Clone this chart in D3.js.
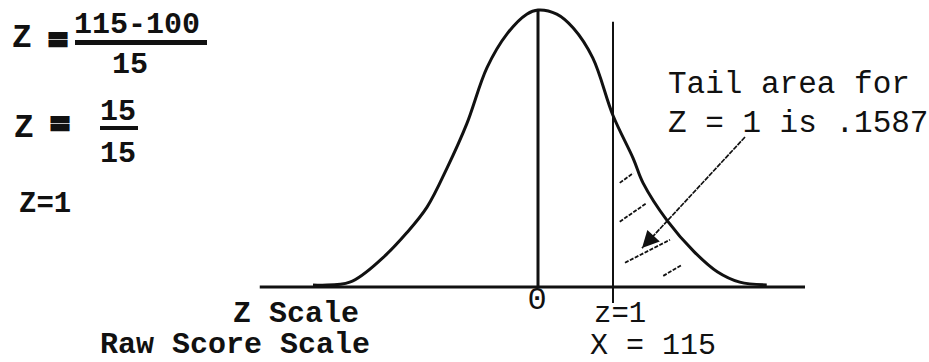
<!DOCTYPE html>
<html><head><meta charset="utf-8">
<script src="https://cdn.jsdelivr.net/npm/d3@7"></script>
<style>body{margin:0;background:#fff}svg{display:block}</style>
</head><body><svg id="c" width="929" height="362"></svg>
<script>
// ---- data ----
const curveZ       = [-3.0, -2.51, -2.07, -1.75, -1.48, -1.21, -0.95, -0.68, -0.41, -0.15, 0, 0.25, 0.47, 0.73, 1.0, 1.27, 1.40, 1.72, 2.08, 2.39, 2.69, 3.05];
const curveDensity = [0.003, 0.007, 0.042, 0.078, 0.115, 0.172, 0.235, 0.316, 0.365, 0.393, 0.399, 0.393, 0.373, 0.330, 0.247, 0.185, 0.150, 0.096, 0.051, 0.022, 0.007, 0.003];
const axisZ = [-3.71, 3.56];
const meanZ = 0;
const cutZ = 1;
const tickLabels = ["0", "z=1"];
const rawLabels = ["X = 115"];
const scaleTitles = ["Z Scale", "Raw Score Scale"];
const noteLines = ["Tail area for", "Z = 1 is .1587"];
const formulaParts = {num1: "115-100", den1: "15", num2: "15", den2: "15", result: "Z=1"};
const hatchZ       = [[1.09, 1.27], [1.09, 1.45], [1.16, 1.76], [1.67, 1.92]];
const hatchDensity = [[0.150, 0.164], [0.094, 0.121], [0.035, 0.068], [0.016, 0.032]];
const arrowZ       = [2.76, 1.387];
const arrowDensity = [0.216, 0.056];

const svg = d3.select("#c");
const x = d3.scaleLinear().domain([-3, 3]).range([313, 763]);
const y = d3.scaleLinear().domain([0, 0.399]).range([287, 10]);
const mono = "'Liberation Mono','DejaVu Sans Mono',monospace";
const ink = "#111";

svg.append("defs").append("marker")
  .attr("id", "ah").attr("viewBox", "0 0 10 10").attr("refX", 10).attr("refY", 5)
  .attr("markerWidth", 24).attr("markerHeight", 17).attr("markerUnits", "userSpaceOnUse")
  .attr("orient", "auto")
  .append("path").attr("d", "M0,0L10,5L0,10Z").attr("fill", ink);

// labels under axis (drawn first so axis overlaps the "0")
svg.append("text").attr("x", x(meanZ) - 1).attr("y", 309).attr("text-anchor", "middle")
  .attr("font-family", mono).attr("font-size", 32).attr("fill", ink).text(tickLabels[0]);
svg.append("text").attr("x", 594).attr("y", 322)
  .attr("font-family", mono).attr("font-size", 29).attr("fill", ink).text(tickLabels[1]);
svg.append("text").attr("x", 590).attr("y", 354)
  .attr("font-family", mono).attr("font-size", 30).attr("fill", ink).text(rawLabels[0]);

svg.append("text").attr("x", 233).attr("y", 322)
  .attr("font-family", mono).attr("font-weight", "bold").attr("font-size", 30).attr("fill", ink).text(scaleTitles[0]);
svg.append("text").attr("x", 100).attr("y", 353)
  .attr("font-family", mono).attr("font-weight", "bold").attr("font-size", 30).attr("fill", ink).text(scaleTitles[1]);

// baseline
svg.append("line").attr("x1", x(axisZ[0])).attr("x2", x(axisZ[1]))
  .attr("y1", y(0)).attr("y2", y(0)).attr("stroke", ink).attr("stroke-width", 3);

// mean line
svg.append("line").attr("x1", x(meanZ)).attr("x2", x(meanZ))
  .attr("y1", y(0)).attr("y2", y(0.399)).attr("stroke", ink).attr("stroke-width", 3);

// z = 1 line
svg.append("line").attr("x1", x(cutZ)).attr("x2", x(cutZ))
  .attr("y1", y(-0.023)).attr("y2", y(0.382)).attr("stroke", ink).attr("stroke-width", 2);

// curve
const pts = curveZ.map((z, i) => [z, curveDensity[i]]);
svg.append("path").datum(pts)
  .attr("d", d3.line().x(d => x(d[0])).y(d => y(d[1])).curve(d3.curveCatmullRom.alpha(0.5)))
  .attr("fill", "none").attr("stroke", ink).attr("stroke-width", 3).attr("stroke-linejoin", "round");

// hatch dashes
svg.selectAll(".hatch").data(hatchZ).enter().append("line")
  .attr("x1", (d) => x(d[0])).attr("x2", (d) => x(d[1]))
  .attr("y1", (d, i) => y(hatchDensity[i][0])).attr("y2", (d, i) => y(hatchDensity[i][1]))
  .attr("stroke", ink).attr("stroke-width", 1.8).attr("stroke-dasharray", "4 1.5");

// arrow
svg.append("line").attr("x1", x(arrowZ[0])).attr("y1", y(arrowDensity[0]))
  .attr("x2", x(arrowZ[1])).attr("y2", y(arrowDensity[1]))
  .attr("stroke", ink).attr("stroke-width", 1.7).attr("stroke-dasharray", "5 1")
  .attr("marker-end", "url(#ah)");

// note text
noteLines.forEach((t, i) => {
  svg.append("text").attr("x", 668).attr("y", 93 + i * 39)
    .attr("font-family", mono).attr("font-size", 31).attr("fill", ink).text(t);
});

// formulas
const bold = (sel) => sel.attr("font-family", mono).attr("font-weight", "bold").attr("fill", ink);
bold(svg.append("text").attr("x", 12).attr("y", 47).attr("font-size", 33)).text("Z");
bold(svg.append("text").attr("x", 58).attr("y", 50).attr("text-anchor", "middle").attr("font-size", 30)
  .attr("stroke", ink).attr("stroke-width", 4)).text("=");
bold(svg.append("text").attr("x", 74).attr("y", 33).attr("font-size", 30)).text(formulaParts.num1);
svg.append("rect").attr("x", 75).attr("y", 40).attr("width", 132).attr("height", 5).attr("fill", ink);
bold(svg.append("text").attr("x", 112).attr("y", 73).attr("font-size", 30)).text(formulaParts.den1);

bold(svg.append("text").attr("x", 14).attr("y", 137).attr("font-size", 33)).text("Z");
bold(svg.append("text").attr("x", 60).attr("y", 134).attr("text-anchor", "middle").attr("font-size", 30)
  .attr("stroke", ink).attr("stroke-width", 4)).text("=");
bold(svg.append("text").attr("x", 100).attr("y", 120).attr("font-size", 30)).text(formulaParts.num2);
svg.append("rect").attr("x", 100).attr("y", 126).attr("width", 38).attr("height", 4).attr("fill", ink);
bold(svg.append("text").attr("x", 100).attr("y", 162).attr("font-size", 30)).text(formulaParts.den2);

bold(svg.append("text").attr("x", 19).attr("y", 212).attr("font-size", 29)).text(formulaParts.result);
</script></body></html>
